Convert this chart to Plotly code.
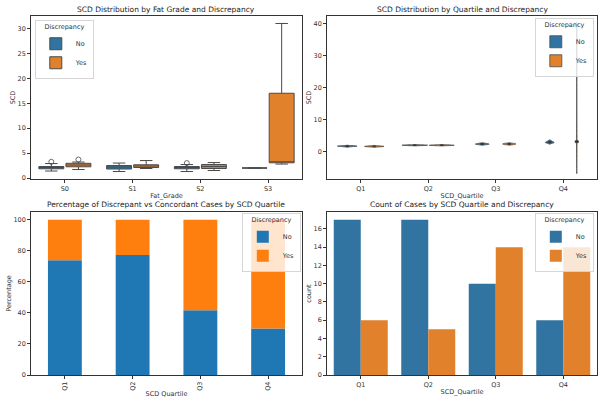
import numpy as np
import plotly.graph_objects as go

# ---------------- data ----------------
hues = ["No", "Yes"]
fat_grades = ["S0", "S1", "S2", "S3"]
quartiles = ["Q1", "Q2", "Q3", "Q4"]

# Box-plot statistics (SCD by Fat grade)
box_no_lower = [1.4, 1.3, 1.3, 2.0]
box_no_q1 = [1.85, 1.8, 1.85, 2.0]
box_no_median = [2.1, 2.2, 2.1, 2.0]
box_no_q3 = [2.3, 2.5, 2.3, 2.0]
box_no_upper = [2.9, 3.0, 2.7, 2.0]
box_yes_lower = [1.7, 1.9, 1.5, 2.8]
box_yes_q1 = [2.25, 2.1, 1.9, 3.05]
box_yes_median = [2.6, 2.4, 2.3, 3.1]
box_yes_q3 = [2.95, 2.65, 2.7, 17.0]
box_yes_upper = [3.2, 3.5, 3.1, 31.0]
outlier_no_grade = ["S0", "S2"]
outlier_no_value = [3.25, 3.0]
outlier_yes_grade = ["S0"]
outlier_yes_value = [3.7]

# SCD samples by quartile and discrepancy (for violins), estimated
scd_q1_no = [1.45, 1.52, 1.56, 1.60, 1.62, 1.64, 1.66, 1.68, 1.70, 1.71, 1.73, 1.75, 1.77, 1.79, 1.81, 1.83, 1.86]
scd_q1_yes = [1.48, 1.55, 1.60, 1.65, 1.70, 1.78]
scd_q2_no = [1.86, 1.88, 1.90, 1.92, 1.94, 1.95, 1.97, 1.98, 2.00, 2.01, 2.02, 2.04, 2.05, 2.07, 2.09, 2.11, 2.13]
scd_q2_yes = [1.88, 1.94, 1.98, 2.03, 2.10]
scd_q3_no = [2.14, 2.20, 2.25, 2.30, 2.34, 2.38, 2.42, 2.48, 2.54, 2.62]
scd_q3_yes = [2.15, 2.18, 2.22, 2.26, 2.30, 2.33, 2.36, 2.40, 2.43, 2.47, 2.50, 2.55, 2.58, 2.63]
scd_q4_no = [2.65, 2.75, 2.85, 2.95, 3.10, 3.35]
scd_q4_yes = [2.65, 2.70, 2.75, 2.80, 2.90, 2.95, 3.00, 3.05, 3.10, 3.20, 3.40, 3.60, 17.0, 31.0]

# Counts by quartile
count_no = [17, 17, 10, 6]
count_yes = [6, 5, 14, 14]

# ---------------- style ----------------
FONT = "DejaVu Sans"
BLUE_SNS = "#3274a1"
ORANGE_SNS = "#e1812c"
BLUE_PD = "#1f77b4"
ORANGE_PD = "#ff7f0e"
EDGE = "#4a4a4a"
AX = "#333333"

fig = go.Figure()

# ---- Panel 1: box plot ----
for name, color, lo, q1, med, q3, up in [
    ("No", BLUE_SNS, box_no_lower, box_no_q1, box_no_median, box_no_q3, box_no_upper),
    ("Yes", ORANGE_SNS, box_yes_lower, box_yes_q1, box_yes_median, box_yes_q3, box_yes_upper),
]:
    fig.add_trace(go.Box(
        name=name, x=fat_grades, q1=q1, median=med, q3=q3,
        lowerfence=lo, upperfence=up, fillcolor=color,
        line=dict(color=EDGE, width=1), whiskerwidth=0.5,
        boxpoints=False, offsetgroup=name, alignmentgroup="p1",
        xaxis="x", yaxis="y", legend="legend",
        legendgroup="p1" + name, showlegend=True,
    ))
fig.add_trace(go.Scatter(
    x=outlier_no_grade, y=outlier_no_value, mode="markers",
    marker=dict(symbol="circle-open", size=5, color=EDGE, line=dict(width=0.8)),
    xaxis="x", yaxis="y", showlegend=False, offsetgroup="No"))
fig.add_trace(go.Scatter(
    x=outlier_yes_grade, y=outlier_yes_value, mode="markers",
    marker=dict(symbol="circle-open", size=5, color=EDGE, line=dict(width=0.8)),
    xaxis="x", yaxis="y", showlegend=False, offsetgroup="Yes"))

# ---- Panel 2: violins ----
violin_groups = [
    ("No", BLUE_SNS, [scd_q1_no, scd_q2_no, scd_q3_no, scd_q4_no]),
    ("Yes", ORANGE_SNS, [scd_q1_yes, scd_q2_yes, scd_q3_yes, scd_q4_yes]),
]
for name, color, groups in violin_groups:
    for i, (q, vals) in enumerate(zip(quartiles, groups)):
        arr = np.asarray(vals)
        bw = float(np.std(arr, ddof=1) * len(arr) ** (-0.2))  # Scott's rule
        fig.add_trace(go.Violin(
            x=[q] * len(arr), y=arr, name=name, offsetgroup=name, alignmentgroup="p2",
            fillcolor=color, line=dict(color=EDGE, width=0.8),
            bandwidth=bw, spanmode="soft", scalegroup="all", scalemode="width",
            points=False, box=dict(visible=True, width=0.12, fillcolor="#3a3a3a",
                                   line=dict(color="#3a3a3a", width=0.8)),
            meanline=dict(visible=False), opacity=1,
            xaxis="x2", yaxis="y2", legend="legend2",
            legendgroup="p2" + name, showlegend=(i == 0),
        ))

# ---- Panel 3: stacked percentage bars ----
totals = [a + b for a, b in zip(count_no, count_yes)]
pct_no = [100 * a / t for a, t in zip(count_no, totals)]
pct_yes = [100 * b / t for b, t in zip(count_yes, totals)]
fig.add_trace(go.Bar(
    x=quartiles, y=pct_no, name="No", marker=dict(color=BLUE_PD, line=dict(width=0)),
    width=0.5, offset=-0.25, xaxis="x3", yaxis="y3", legend="legend3"))
fig.add_trace(go.Bar(
    x=quartiles, y=pct_yes, base=pct_no, name="Yes", marker=dict(color=ORANGE_PD, line=dict(width=0)),
    width=0.5, offset=-0.25, xaxis="x3", yaxis="y3", legend="legend3"))

# ---- Panel 4: grouped count bars ----
fig.add_trace(go.Bar(
    x=quartiles, y=count_no, name="No", marker=dict(color=BLUE_SNS, line=dict(width=0)),
    offsetgroup="No", xaxis="x4", yaxis="y4", legend="legend4"))
fig.add_trace(go.Bar(
    x=quartiles, y=count_yes, name="Yes", marker=dict(color=ORANGE_SNS, line=dict(width=0)),
    offsetgroup="Yes", xaxis="x4", yaxis="y4", legend="legend4"))

# ---------------- layout ----------------
W, H = 602, 398
def px_x(a, b):
    return [a / W, b / W]
def px_y(top, bottom):
    return [1 - bottom / H, 1 - top / H]

XL = px_x(31, 302)
XR = px_x(327, 597)
YT = px_y(16, 179)
YB = px_y(212, 375)

def ax(**kw):
    d = dict(showline=True, mirror=True, linecolor=AX, linewidth=0.8,
             ticks="outside", ticklen=3, tickwidth=0.8, tickcolor=AX,
             tickfont=dict(size=6.5, color=AX, family=FONT), showgrid=False,
             zeroline=False, automargin=False,
             title=dict(font=dict(size=6.5, color=AX, family=FONT), standoff=1))
    for k, v in kw.items():
        if k == "title":
            d["title"] = dict(d["title"], text=v)
        else:
            d[k] = v
    return d

def legend(x, y, xanchor):
    return dict(x=x, y=y, xanchor=xanchor, yanchor="top",
                bgcolor="rgba(255,255,255,0.8)", bordercolor="#cccccc", borderwidth=0.8,
                font=dict(size=6.5, color=AX, family=FONT),
                title=dict(text="Discrepancy", font=dict(size=6.5, color=AX, family=FONT),
                           side="top center"),
                itemwidth=30, tracegroupgap=0, traceorder="normal")

fig.update_layout(
    width=W, height=H, margin=dict(l=0, r=0, t=0, b=0),
    paper_bgcolor="white", plot_bgcolor="white",
    font=dict(family=FONT, color=AX),
    boxmode="group", boxgap=0.2, boxgroupgap=0.08,
    violinmode="group", violingap=0.2, violingroupgap=0.05,
    barmode="group", bargap=0.2, bargroupgap=0.0,
    scattermode="group", scattergap=0.2,
    xaxis=ax(domain=XL, anchor="y", title="Fat_Grade", type="category",
             categoryorder="array", categoryarray=fat_grades, range=[-0.5, 3.5]),
    yaxis=ax(domain=YT, anchor="x", title="SCD", range=[-0.2, 32.5], dtick=5, tick0=0),
    xaxis2=ax(domain=XR, anchor="y2", title="SCD_Quartile", type="category",
              categoryorder="array", categoryarray=quartiles, range=[-0.5, 3.5]),
    yaxis2=ax(domain=YT, anchor="x2", title="SCD", range=[-8.6, 42.5], dtick=10, tick0=0),
    xaxis3=ax(domain=XL, anchor="y3", title="SCD Quartile", type="category",
              categoryorder="array", categoryarray=quartiles, range=[-0.5, 3.5], tickangle=-90),
    yaxis3=ax(domain=YB, anchor="x3", title="Percentage", range=[0, 105], dtick=20, tick0=0),
    xaxis4=ax(domain=XR, anchor="y4", title="SCD_Quartile", type="category",
              categoryorder="array", categoryarray=quartiles, range=[-0.5, 3.5]),
    yaxis4=ax(domain=YB, anchor="x4", title="count", range=[0, 17.85], dtick=2, tick0=0),
    legend=legend(35 / W, 1 - 20 / H, "left"),
    legend2=legend(594 / W, 1 - 18 / H, "right"),
    legend3=legend(301 / W, 1 - 213 / H, "right"),
    legend4=legend(594 / W, 1 - 213 / H, "right"),
)

titles = [
    ("SCD Distribution by Fat Grade and Discrepancy", XL, 9),
    ("SCD Distribution by Quartile and Discrepancy", XR, 9),
    ("Percentage of Discrepant vs Concordant Cases by SCD Quartile", XL, 205),
    ("Count of Cases by SCD Quartile and Discrepancy", XR, 205),
]
for text, dom, ypx in titles:
    fig.add_annotation(text=text, x=(dom[0] + dom[1]) / 2, y=1 - ypx / H,
                       xref="paper", yref="paper", xanchor="center", yanchor="middle",
                       showarrow=False, font=dict(size=7.5, color="#222222", family=FONT))

fig.write_html("out.html", config={"displayModeBar": False},
               post_script="document.body.style.margin='0';document.body.style.padding='0';"
                           "document.body.style.overflow='hidden';")
